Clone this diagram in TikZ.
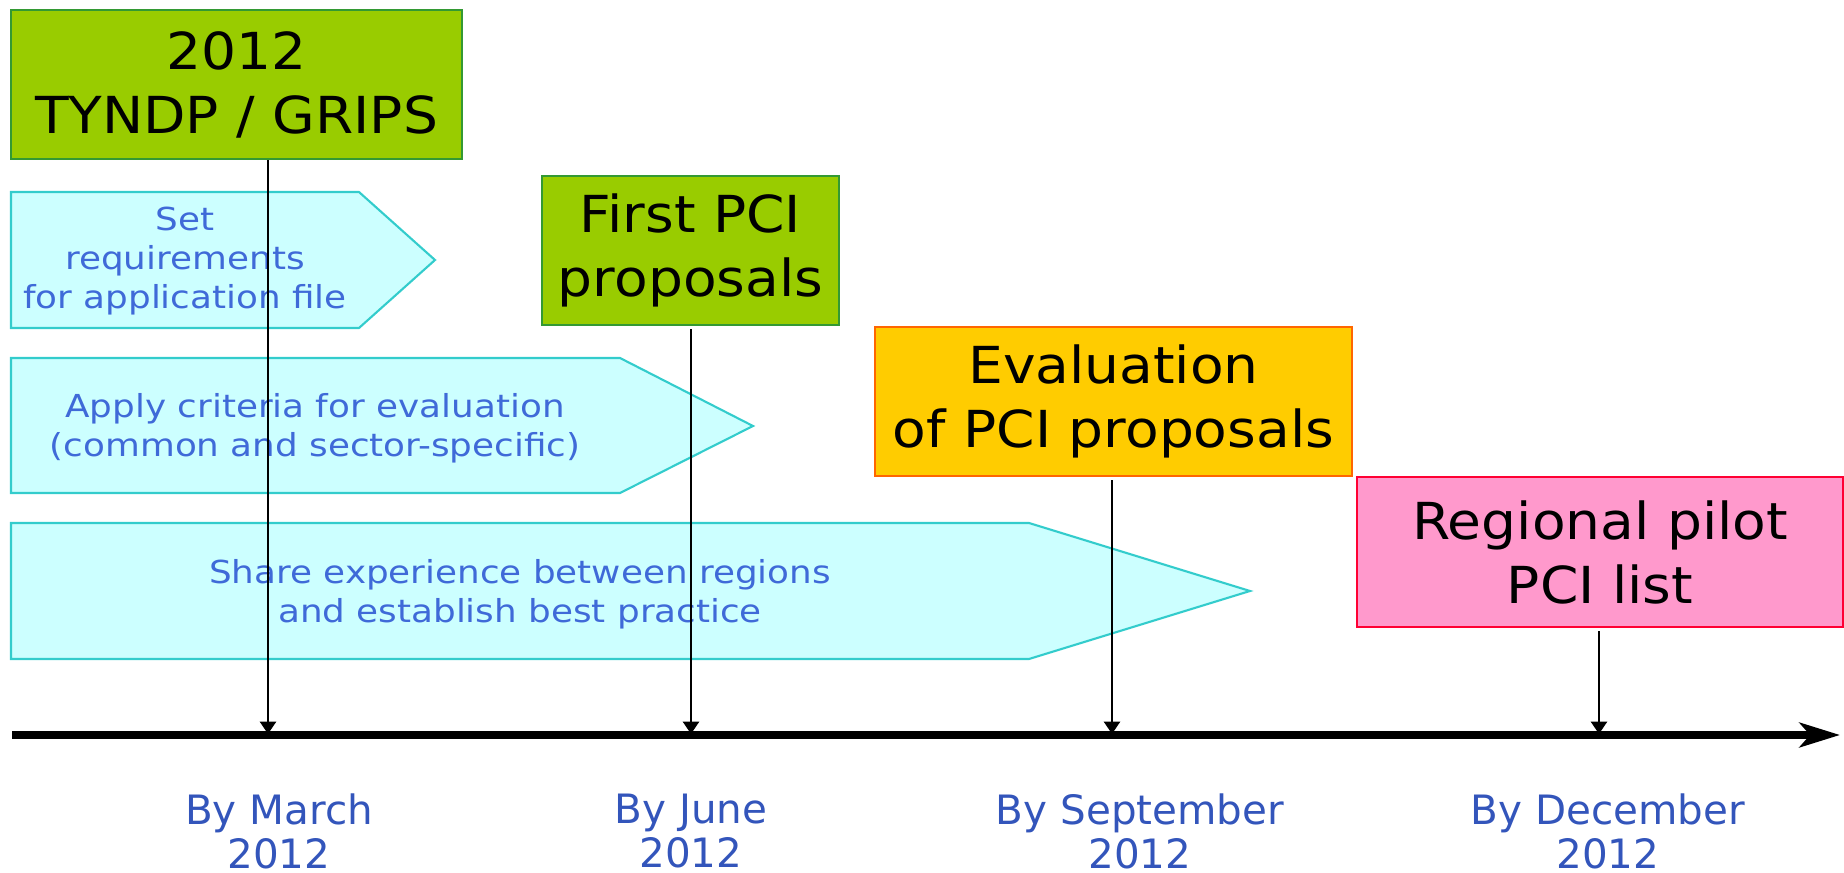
\documentclass[tikz,border=0pt]{standalone}
\usepackage{fontspec}
\setmainfont{DejaVu Sans}
\newfontfamily\largo{DejaVu Sans}[FakeStretch=1.08]
\newfontfamily\largofase{DejaVu Sans}[FakeStretch=1.13]
\usetikzlibrary{arrows.meta}
\definecolor{verde}{HTML}{99CC00}
\definecolor{verdebordo}{HTML}{339933}
\definecolor{ciano}{HTML}{CCFFFF}
\definecolor{cianobordo}{HTML}{33CCCC}
\definecolor{blutesto}{HTML}{3F6AD8}
\definecolor{arancio}{HTML}{FFCC00}
\definecolor{aranciobordo}{HTML}{FF6600}
\definecolor{rosa}{HTML}{FF99CC}
\definecolor{rosabordo}{HTML}{FF0033}
\definecolor{blumese}{HTML}{3355BB}
\begin{document}
\begin{tikzpicture}[x=0.01cm,y=-0.01cm,
    tappa/.style={draw, align=center, inner sep=0pt, minimum height=1.49cm, line width=0.6pt, font=\largo\fontsize{14.5}{18.2}\selectfont},
    fase/.style={draw=cianobordo, fill=ciano, line width=0.6pt},
    testofase/.style={align=center, text=blutesto, font=\largofase\fontsize{9}{11.1}\selectfont},
    mese/.style={align=center, text=blumese, font=\fontsize{11.5}{12.5}\selectfont},
    freccia/.style={-{Triangle[length=3.5pt,width=4.5pt]}, line width=0.8pt}]

    \useasboundingbox (0,0) rectangle (1844,873);

    % Disegna le fasi (frecce a pentagono)
    \draw[fase] (11,192) -- (359,192) -- (435,260) -- (359,328) -- (11,328) -- cycle;
    \node[testofase] (requisiti) at (185,261) {Set\\requirements\\for application file};
    \draw[fase] (11,358) -- (620,358) -- (753,426) -- (620,493) -- (11,493) -- cycle;
    \node[testofase] (criteri) at (315,428) {Apply criteria for evaluation\\(common and sector-specific)};
    \draw[fase] (11,523) -- (1029,523) -- (1250,591) -- (1029,659) -- (11,659) -- cycle;
    \node[testofase] (esperienza) at (520,594) {Share experience between regions\\and establish best practice};

    % Disegna le tappe
    \node[tappa, fill=verde, draw=verdebordo, minimum width=4.51cm] (tyndp) at (236.5,84.5) {2012\\TYNDP / GRIPS};
    \node[tappa, fill=verde, draw=verdebordo, minimum width=2.97cm] (prima) at (690.5,250.5) {First PCI\\proposals};
    \node[tappa, fill=arancio, draw=aranciobordo, minimum width=4.77cm] (valutazione) at (1113.5,401.5) {Evaluation\\of PCI proposals};
    \node[tappa, fill=rosa, draw=rosabordo, minimum width=4.86cm, minimum height=1.50cm] (lista) at (1600,552) {Regional pilot\\PCI list};

    % Punti sulla linea del tempo
    \coordinate (inizio) at (12,735);
    \coordinate (fine) at (1840,735);
    \coordinate (t1) at (268,734);
    \coordinate (t2) at (691,734);
    \coordinate (t3) at (1112,734);
    \coordinate (t4) at (1599,734);

    % Frecce verticali
    \draw[freccia] (t1 |- tyndp.south) -- (t1);
    \draw[freccia] ([yshift=-0.03cm]t2 |- prima.south) -- (t2);
    \draw[freccia] ([yshift=-0.03cm]t3 |- valutazione.south) -- (t3);
    \draw[freccia] ([yshift=-0.03cm]t4 |- lista.south) -- (t4);

    % Linea del tempo
    \draw[line width=2pt, -{Stealth[length=11.5pt,width=7pt,inset=3pt]}] (inizio) -- (fine);

    \node[mese] (marzo) at (279,831) {By March\\2012};
    \node[mese] (giugno) at (691,831) {By June\\2012};
    \node[mese] (settembre) at (1140,831) {By September\\2012};
    \node[mese] (dicembre) at (1608,831) {By December\\2012};
\end{tikzpicture}
\end{document}
